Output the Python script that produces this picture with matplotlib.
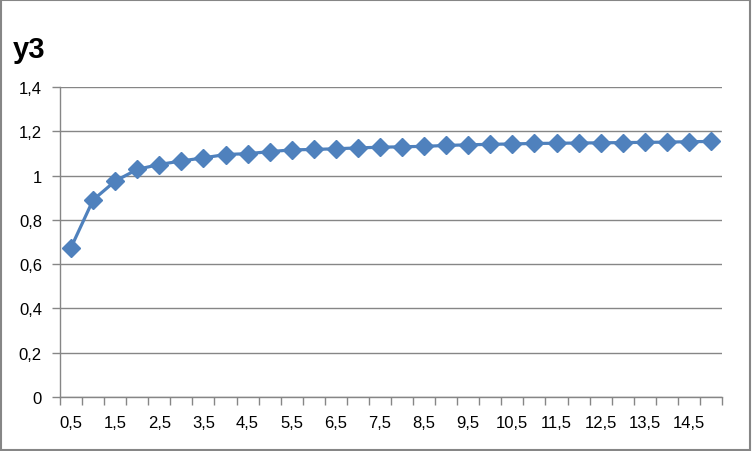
import matplotlib
matplotlib.use("Agg")
import matplotlib.pyplot as plt
from matplotlib.patches import Rectangle
import numpy as np

categories = [0.5, 1, 1.5, 2, 2.5, 3, 3.5, 4, 4.5, 5, 5.5, 6, 6.5, 7, 7.5,
              8, 8.5, 9, 9.5, 10, 10.5, 11, 11.5, 12, 12.5, 13, 13.5, 14, 14.5, 15]
y3 = [0.675, 0.890, 0.975, 1.028, 1.050, 1.066, 1.080, 1.095, 1.099, 1.108,
      1.116, 1.118, 1.121, 1.125, 1.128, 1.130, 1.132, 1.136, 1.139, 1.141,
      1.143, 1.145, 1.146, 1.147, 1.148, 1.149, 1.150, 1.151, 1.153, 1.154]
y_ticks = [0, 0.2, 0.4, 0.6, 0.8, 1.0, 1.2, 1.4]

def fmt(v):
    s = ("%g" % v)
    return s.replace(".", ",")

plt.rcParams['font.family'] = ['Liberation Sans', 'DejaVu Sans']

fig = plt.figure(figsize=(7.52, 4.52), dpi=100)
ax = fig.add_axes([60/752, 54/452, 662/752, 310/452])

grid_c = '#868686'
x = np.arange(len(categories))
ax.plot(x, y3, color='#4F81BD', lw=2.3, marker='D', markersize=9,
        markerfacecolor='#4F81BD', markeredgecolor='#4F81BD', zorder=3,
        solid_joinstyle='round')

ax.set_xlim(-0.5, len(categories) - 0.5)
ax.set_ylim(0, 1.4)
ax.set_yticks(y_ticks)
ax.set_yticklabels([fmt(v) for v in y_ticks])
ax.yaxis.grid(True, color=grid_c, lw=1)
ax.set_axisbelow(True)

ax.set_xticks(np.arange(-0.5, len(categories), 1.0))
ax.set_xticklabels([])
ax.set_xticks(x[::2], minor=True)
ax.set_xticklabels([fmt(c) for c in categories[::2]], minor=True)
ax.tick_params(axis='x', which='major', length=6, color=grid_c, width=1, direction='out')
ax.tick_params(axis='x', which='minor', length=0, pad=13, labelsize=12)
ax.tick_params(axis='y', length=6, color=grid_c, width=1, direction='out', labelsize=12, pad=7)

for s in ['top', 'right']:
    ax.spines[s].set_visible(False)
for s in ['left', 'bottom']:
    ax.spines[s].set_color(grid_c)
    ax.spines[s].set_linewidth(1)

fig.text(13/752, 1 - 50/452, 'y3', fontsize=21, fontweight='bold', va='center', ha='left')

fig.patches.append(Rectangle((0.001, 0.002), 0.997, 0.995, transform=fig.transFigure,
                             fill=False, edgecolor=grid_c, lw=1.5))

fig.savefig('out.png', dpi=100)
